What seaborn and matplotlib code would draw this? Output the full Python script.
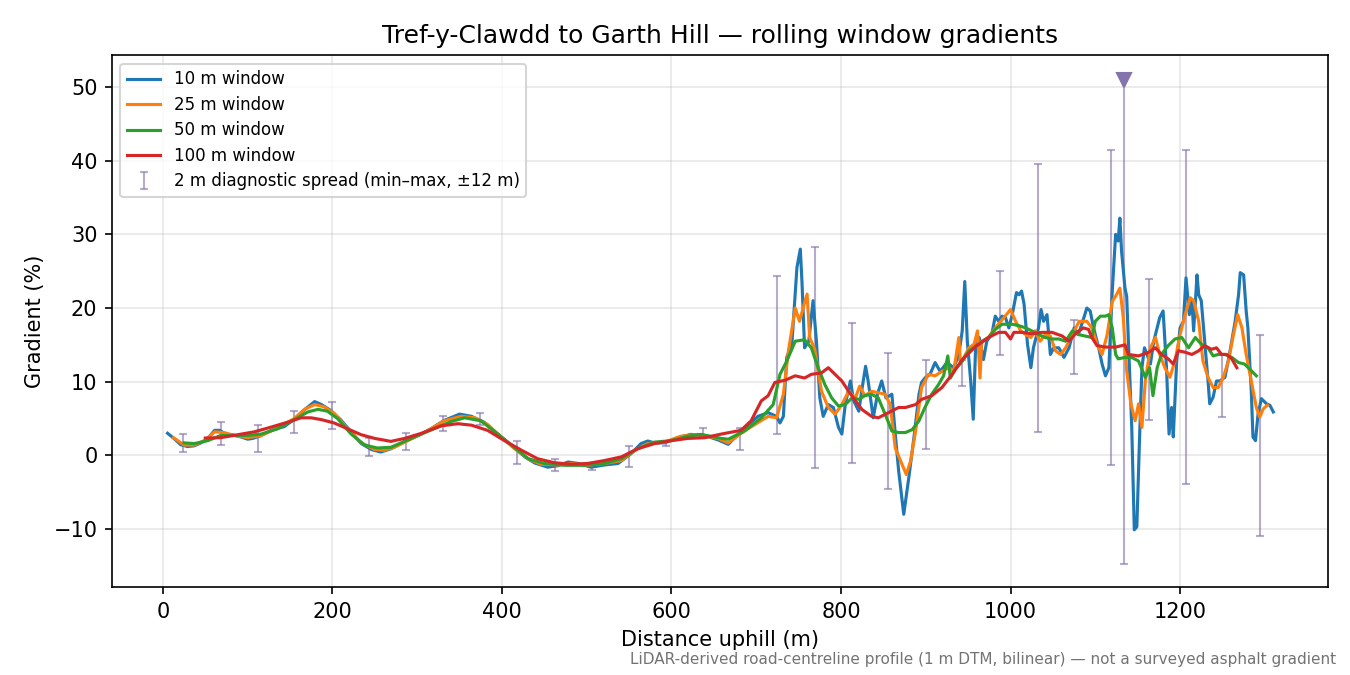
import numpy as np
import matplotlib
matplotlib.use('Agg')
import matplotlib.pyplot as plt
import seaborn as sns

# rolling window gradient traces
x_10 = [5.5, 13, 21, 29, 37, 45, 53, 61, 67, 74, 82, 92, 100, 106, 116, 128, 143, 155, 167, 179,
        187, 198, 210, 222, 234, 246, 257, 269, 281, 293, 305, 316, 332, 350, 364, 379, 395, 411,
        427, 439, 454, 466, 478, 490, 505, 521, 537, 552, 564, 572, 580, 592, 607, 623, 639, 655,
        667, 682, 702, 714, 724, 728, 732, 736, 742, 748, 752, 754, 757, 762, 767, 771, 775, 779,
        785, 791, 797, 801, 805, 811, 815, 821, 825, 829, 832, 838, 843, 848, 853, 860, 864, 868,
        874, 880, 886, 892, 895, 899, 905, 911, 917, 925, 933, 939, 943, 946, 949, 953, 956, 959,
        963, 968, 972, 978, 982, 986, 990, 994, 998, 1002, 1007, 1010, 1013, 1016, 1020, 1024,
        1027, 1033, 1036, 1039, 1043, 1047, 1051, 1057, 1063, 1069, 1075, 1080, 1086, 1090, 1094,
        1098, 1104, 1108, 1112, 1116, 1120, 1124, 1127, 1129, 1131, 1135, 1137, 1140, 1143, 1146,
        1149, 1152, 1155, 1158, 1161, 1165, 1169, 1173, 1176, 1180, 1184, 1187, 1190, 1192, 1196,
        1200, 1204, 1207, 1211, 1214, 1216, 1220, 1222, 1225, 1229, 1233, 1235, 1239, 1243, 1247,
        1253, 1259, 1265, 1269, 1271, 1275, 1278, 1280, 1284, 1286, 1289, 1292, 1296, 1302, 1306,
        1310]
g_10 = [3.0, 2.3, 1.45, 1.2, 1.3, 1.7, 2.3, 3.4, 3.4, 2.9, 2.8, 2.5, 2.2, 2.3, 2.7, 3.4, 3.9, 4.9,
        6.2, 7.3, 6.9, 6.1, 4.8, 3.2, 1.6, 0.8, 0.45, 0.9, 1.6, 2.3, 2.9, 3.6, 4.75, 5.6, 5.3, 4.5,
        2.9, 1.4, -0.2, -1.05, -1.6, -1.4, -0.9, -1.1, -1.6, -1.3, -1.1, 0.2, 1.6, 1.95, 1.7, 1.7,
        2.4, 2.85, 2.7, 2.1, 1.5, 3.3, 5.3, 5.8, 5.3, 4.4, 5.3, 13.3, 15.1, 25.5, 28.0, 23.4, 14.6,
        15.5, 21.0, 15.5, 7.8, 5.3, 6.9, 6.5, 3.8, 2.9, 6.9, 10.1, 7.4, 6.0, 9.2, 12.1, 10.1, 5.1,
        8.3, 10.1, 7.8, 8.3, 2.9, -2.1, -8.0, -3.0, 2.4, 8.3, 9.9, 10.5, 11.0, 12.6, 11.4, 12.6,
        11.9, 13.7, 16.9, 23.6, 15.5, 10.1, 4.9, 15.5, 16.0, 13.0, 15.5, 16.5, 18.9, 18.2, 18.9,
        18.7, 17.3, 19.1, 22.1, 21.8, 22.3, 20.5, 15.1, 11.9, 14.6, 17.3, 19.8, 18.2, 19.1, 13.7,
        14.6, 14.6, 13.3, 14.6, 17.3, 16.4, 18.5, 20.0, 19.6, 17.3, 14.6, 12.4, 10.8, 11.9, 22.3,
        30.0, 29.1, 32.2, 27.7, 22.7, 21.6, 12.8, 3.8, -10.1, -9.7, 1.6, 11.9, 14.6, 13.7, 12.4,
        15.5, 17.3, 18.7, 19.6, 11.9, 2.9, 6.5, 2.5, 12.8, 17.3, 18.2, 24.1, 19.1, 21.0, 16.9,
        24.5, 21.8, 21.0, 15.5, 10.1, 7.0, 7.9, 10.1, 10.1, 10.6, 14.2, 18.2, 21.8, 24.8, 24.5,
        19.6, 17.3, 8.8, 2.5, 2.0, 5.6, 7.7, 7.0, 6.8, 5.9]

x_25 = [12.5, 25, 37, 49, 61, 72, 84, 100, 116, 135, 155, 167, 179, 190, 202, 218, 234, 250, 261,
        273, 289, 313, 332, 352, 368, 383, 399, 415, 431, 446, 466, 482, 501, 521, 541, 557, 572,
        592, 611, 631, 655, 667, 686, 714, 724, 732, 738, 746, 751, 756, 760, 763, 769, 777, 785,
        793, 801, 809, 817, 822, 828, 836, 844, 852, 858, 864, 872, 877, 882, 888, 895, 903, 911,
        919, 927, 933, 939, 941, 945, 951, 957, 961, 964, 966, 974, 982, 990, 1000, 1006, 1012,
        1018, 1024, 1029, 1035, 1041, 1047, 1053, 1059, 1065, 1073, 1081, 1090, 1096, 1102, 1108,
        1114, 1120, 1124, 1129, 1133, 1137, 1142, 1147, 1151, 1155, 1159, 1165, 1171, 1176, 1182,
        1188, 1194, 1200, 1206, 1212, 1216, 1222, 1227, 1233, 1239, 1245, 1251, 1257, 1263, 1268,
        1273, 1278, 1284, 1290, 1294, 1298, 1303]
g_25 = [2.4, 1.4, 1.4, 2.0, 3.2, 3.1, 2.7, 2.4, 2.7, 3.7, 5.0, 6.25, 6.9, 6.6, 5.7, 3.6, 1.7, 0.8,
        0.7, 1.1, 2.0, 3.4, 4.7, 5.3, 5.1, 4.2, 2.5, 0.9, -0.45, -1.2, -1.3, -1.1, -1.35, -1.1,
        -0.7, 0.7, 1.6, 1.8, 2.6, 2.85, 2.3, 1.7, 3.3, 5.3, 5.1, 8.3, 14.2, 20.0, 18.2, 20.3, 21.9,
        16.0, 14.4, 8.7, 6.5, 5.6, 6.9, 8.7, 7.8, 9.4, 8.1, 8.7, 8.5, 8.3, 6.9, 1.0, -1.2, -2.6,
        -0.8, 3.3, 9.2, 11.0, 10.8, 11.4, 11.9, 11.4, 16.0, 12.4, 13.3, 14.6, 15.1, 16.9, 10.5,
        15.5, 16.0, 17.3, 18.4, 19.8, 18.2, 16.9, 16.4, 16.0, 16.9, 15.5, 16.4, 16.2, 14.2, 13.7,
        14.6, 16.4, 18.2, 18.2, 17.3, 15.1, 13.7, 16.4, 20.9, 21.6, 22.7, 18.7, 11.5, 7.0, 4.7,
        7.0, 3.8, 10.1, 14.6, 16.0, 13.7, 11.9, 10.6, 12.8, 16.4, 19.1, 21.4, 21.0, 18.2, 12.8,
        10.6, 9.2, 9.2, 10.6, 12.8, 16.4, 19.1, 17.3, 13.7, 10.1, 6.5, 5.2, 6.3, 6.8]

x_50 = [25, 37, 53, 68, 84, 100, 116, 135, 155, 171, 183, 194, 206, 222, 238, 253, 269, 285, 305,
        328, 340, 356, 375, 395, 411, 431, 450, 474, 497, 521, 541, 560, 580, 600, 619, 635, 659,
        667, 686, 706, 720, 728, 736, 746, 757, 765, 773, 781, 789, 797, 805, 813, 821, 828, 836,
        844, 852, 860, 868, 876, 884, 892, 899, 907, 915, 921, 926, 929, 935, 943, 951, 963, 974,
        982, 990, 1002, 1010, 1018, 1025, 1033, 1041, 1049, 1057, 1065, 1073, 1080, 1088, 1096,
        1100, 1106, 1112, 1116, 1120, 1124, 1127, 1135, 1143, 1151, 1159, 1164, 1168, 1173, 1178,
        1186, 1194, 1202, 1210, 1218, 1225, 1233, 1239, 1245, 1253, 1261, 1269, 1276, 1284, 1290]
g_50 = [1.7, 1.6, 2.0, 2.7, 2.7, 2.7, 2.9, 3.6, 4.85, 5.9, 6.25, 6.0, 5.0, 2.9, 1.4, 1.0, 1.1,
        1.9, 2.9, 4.0, 4.6, 5.1, 4.7, 2.9, 1.4, -0.45, -1.1, -1.35, -1.35, -1.1, -0.45, 0.9, 1.8,
        2.0, 2.6, 2.85, 2.3, 2.2, 3.3, 5.1, 6.9, 11.0, 12.8, 15.5, 15.7, 14.6, 11.9, 9.6, 7.8, 6.7,
        6.9, 7.8, 7.6, 8.1, 8.3, 7.8, 5.6, 3.3, 3.1, 3.1, 3.5, 4.7, 6.5, 8.3, 9.6, 10.8, 13.5, 10.5,
        11.7, 12.8, 14.2, 15.1, 16.0, 17.1, 17.8, 17.8, 17.6, 17.3, 16.9, 16.4, 16.0, 15.8, 15.8,
        15.5, 16.9, 16.4, 16.2, 16.0, 18.2, 18.9, 18.9, 19.1, 17.3, 13.7, 13.1, 13.3, 13.3, 12.8,
        10.6, 11.9, 8.1, 11.9, 13.7, 14.9, 15.8, 16.0, 14.6, 16.0, 15.1, 14.6, 13.5, 13.7, 13.7,
        13.3, 12.6, 12.4, 11.5, 10.8]

x_100 = [50, 68, 88, 108, 128, 147, 163, 175, 187, 202, 218, 234, 250, 269, 285, 305, 328, 348,
         364, 383, 403, 423, 442, 462, 482, 501, 521, 541, 560, 580, 600, 619, 639, 659, 682, 694,
         706, 714, 722, 734, 746, 757, 765, 777, 785, 793, 801, 809, 817, 825, 836, 844, 856, 868,
         876, 888, 895, 907, 919, 931, 943, 959, 974, 986, 994, 1000, 1004, 1014, 1025, 1037, 1049,
         1061, 1069, 1078, 1086, 1092, 1096, 1102, 1112, 1124, 1135, 1139, 1151, 1163, 1171, 1178,
         1186, 1192, 1198, 1206, 1214, 1222, 1229, 1237, 1243, 1249, 1255, 1261, 1267]
g_100 = [2.35, 2.4, 2.8, 3.2, 3.85, 4.5, 5.1, 5.1, 4.85, 4.4, 3.6, 2.8, 2.3, 1.9, 2.3, 3.0, 4.0,
         4.3, 4.1, 3.4, 2.0, 0.7, -0.45, -1.0, -1.2, -1.1, -0.7, -0.2, 0.9, 1.6, 2.0, 2.3, 2.4,
         2.9, 3.4, 4.7, 7.4, 8.1, 9.9, 10.2, 10.8, 10.5, 11.0, 11.2, 11.9, 11.0, 10.1, 8.7, 7.4,
         6.2, 5.3, 5.1, 5.8, 6.5, 6.5, 6.9, 7.6, 8.1, 9.2, 11.0, 13.0, 14.8, 16.0, 16.7, 16.7, 15.8,
         16.7, 16.7, 16.5, 16.7, 16.7, 16.2, 15.5, 16.7, 17.3, 17.1, 16.0, 14.9, 14.7, 14.7, 15.0,
         13.7, 13.5, 14.0, 14.6, 13.7, 13.1, 12.4, 14.2, 14.0, 13.7, 14.2, 14.9, 14.4, 14.6, 13.7,
         13.7, 13.1, 11.9]

# 2 m diagnostic spread (min / max within +-12 m)
err_x = [24, 68, 112, 155, 199, 243, 287, 331, 374, 418, 462, 506, 550, 593, 637, 681, 725, 769,
         813, 856, 900, 943, 988, 1032, 1075, 1119, 1163, 1207, 1250, 1294]
err_lo = [0.45, 1.4, 0.45, 3.0, 3.6, -0.1, 0.7, 3.3, 4.1, -1.2, -2.1, -1.95, -1.6, 1.3, 2.35, 0.7,
          2.9, -1.7, -1.1, -4.5, 0.9, 9.4, 13.6, 3.2, 11.1, -1.3, 4.8, -3.9, 5.2, -10.9]
err_hi = [2.85, 4.5, 4.1, 6.0, 7.25, 2.4, 3.1, 5.3, 5.8, 1.9, -0.45, -1.0, 1.3, 2.0, 3.7, 3.7,
          24.4, 28.3, 18.0, 13.9, 13.0, 12.9, 25.0, 39.6, 18.4, 41.5, 23.9, 41.4, 13.8, 16.4]

# steepest single spread, its top marked with a triangle
spike_x = [1134]
spike_lo = [-14.7]
spike_hi = [51.0]

purple = '#8573ab'

fig, ax = plt.subplots(figsize=(9, 4.5), dpi=150)

sns.lineplot(x=x_10, y=g_10, ax=ax, color='C0', linewidth=1.5, label='10 m window',
             estimator=None, sort=False, zorder=3)
sns.lineplot(x=x_25, y=g_25, ax=ax, color='C1', linewidth=1.5, label='25 m window',
             estimator=None, sort=False, zorder=3)
sns.lineplot(x=x_50, y=g_50, ax=ax, color='C2', linewidth=1.5, label='50 m window',
             estimator=None, sort=False, zorder=3)
sns.lineplot(x=x_100, y=g_100, ax=ax, color='C3', linewidth=1.5, label='100 m window',
             estimator=None, sort=False, zorder=3)

mid = (np.array(err_lo) + np.array(err_hi)) / 2
half = (np.array(err_hi) - np.array(err_lo)) / 2
ax.errorbar(err_x, mid, yerr=half, fmt='none', ecolor=purple, alpha=0.6,
            elinewidth=1, capsize=2, zorder=2,
            label='2 m diagnostic spread (min–max, ±12 m)')

s_mid = (np.array(spike_lo) + np.array(spike_hi)) / 2
s_half = (np.array(spike_hi) - np.array(spike_lo)) / 2
ax.errorbar(spike_x, s_mid, yerr=s_half, fmt='none', ecolor=purple, alpha=0.6,
            elinewidth=1, capsize=2, zorder=2)
ax.plot(spike_x, spike_hi, marker='v', markersize=7, color=purple, linestyle='none', zorder=4)

ax.set_xlim(-60, 1375)
ax.set_ylim(-17.9, 54.3)
ax.grid(True, alpha=0.3)
ax.set_title('Tref-y-Clawdd to Garth Hill — rolling window gradients', fontsize=12)
ax.set_xlabel('Distance uphill (m)')
ax.set_ylabel('Gradient (%)')
ax.legend(loc='upper left', fontsize=8, labelspacing=0.45)

fig.text(0.99, 0.012, 'LiDAR-derived road-centreline profile (1 m DTM, bilinear) — not a surveyed asphalt gradient',
         ha='right', va='bottom', fontsize=7.3, color='0.45')

fig.subplots_adjust(left=0.083, right=0.984, top=0.918, bottom=0.13)
fig.savefig('out.png', dpi=150)
